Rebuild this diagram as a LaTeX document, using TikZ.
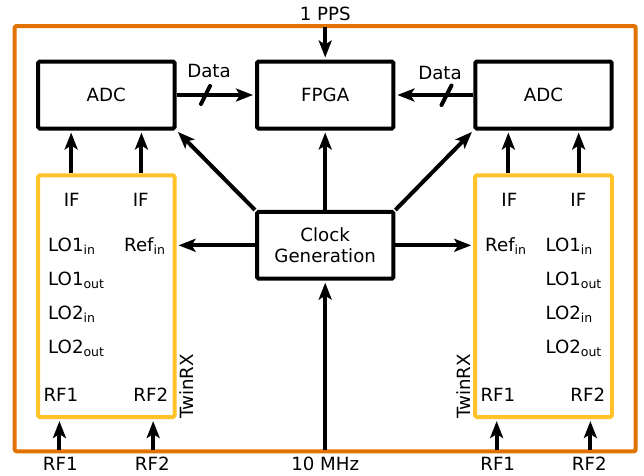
\documentclass[tikz,border=0pt]{standalone}
\usepackage{fontspec}
\setmainfont{DejaVu Sans}
\usetikzlibrary{arrows.meta,calc}
\definecolor{frameorange}{RGB}{226,114,0}
\definecolor{twinyellow}{RGB}{255,194,40}
\newcommand\dfont{\fontsize{18.2}{21.5}\selectfont}
\newcommand\subx[1]{\raisebox{-3pt}{\fontsize{12.5}{13}\selectfont #1}}
\begin{document}
\begin{tikzpicture}[x=1pt,y=-1pt,
  every node/.style={font=\dfont},
  blk/.style={draw, line width=4pt, minimum width=136.4pt, minimum height=67pt, inner sep=0pt, rounded corners=1.5pt},
  twin/.style={draw=twinyellow, line width=4pt, minimum width=136.6pt, minimum height=241.7pt, inner sep=0pt, rounded corners=1.5pt},
  arr/.style={line width=4pt, shorten >=2pt, -{Stealth[length=17pt,width=13pt,inset=4pt]}},
  lbl/.style={inner sep=0pt},
  slashmark/.style={line width=4pt, line cap=round},
]
\useasboundingbox (0,0) rectangle (644,475);
% frame
\node[draw=frameorange, line width=4pt, minimum width=621pt, minimum height=425.3pt, inner sep=0pt, rounded corners=2pt] (frame) at (325.2,238.65) {};
% blocks
\node[blk] (adcL) at (106.3,95) {ADC};
\node[blk] (fpga) at (325.2,95) {FPGA};
\node[blk] (adcR) at (543.5,95) {ADC};
\node[blk, align=center, minimum height=66.7pt] (clk) at (325.2,245.3) {Clock\\Generation};
\node[twin] (twL) at (106.3,296.2) {};
\node[twin] (twR) at (543.5,296.2) {};
% TwinRX labels
\node[lbl, rotate=90, anchor=north west, inner sep=0pt] (twLlab) at ($(twL.south east)+(3,0)$) {TwinRX};
\node[lbl, rotate=90, anchor=south west, inner sep=0pt] (twRlab) at ($(twR.south west)+(-3,0)$) {TwinRX};
% left TwinRX ports
\node[lbl, anchor=base] (ifL1) at (71.7,206) {IF};
\node[lbl, anchor=base] (ifL2) at (140.7,206) {IF};
\node[lbl, anchor=base west] (lo1inL) at (48,251) {LO1\subx{in}};
\node[lbl, anchor=base west] (refL) at (124,251) {Ref\subx{in}};
\node[lbl, anchor=base west] (lo1outL) at (48,285) {LO1\subx{out}};
\node[lbl, anchor=base west] (lo2inL) at (48,319) {LO2\subx{in}};
\node[lbl, anchor=base west] (lo2outL) at (48,353) {LO2\subx{out}};
\node[lbl, anchor=base west] (rf1L) at (43.3,401) {RF1};
\node[lbl, anchor=base east] (rf2L) at (168.3,401) {RF2};
% right TwinRX ports
\node[lbl, anchor=base] (ifR1) at (509.3,206) {IF};
\node[lbl, anchor=base] (ifR2) at (578.3,206) {IF};
\node[lbl, anchor=base west] (refR) at (485,251) {Ref\subx{in}};
\node[lbl, anchor=base west] (lo1inR) at (545.3,251) {LO1\subx{in}};
\node[lbl, anchor=base west] (lo1outR) at (545.3,285) {LO1\subx{out}};
\node[lbl, anchor=base west] (lo2inR) at (545.3,319) {LO2\subx{in}};
\node[lbl, anchor=base west] (lo2outR) at (545.3,353) {LO2\subx{out}};
\node[lbl, anchor=base west] (rf1R) at (480.3,401) {RF1};
\node[lbl, anchor=base east] (rf2R) at (605.3,401) {RF2};
% outside labels
\node[lbl, anchor=base] (pps) at (325.2,20) {1 PPS};
\node[lbl, anchor=base] (mhz) at (325.2,470) {10 MHz};
\node[lbl, anchor=base] (inRF1L) at (60.3,470) {RF1};
\node[lbl, anchor=base] (inRF2L) at (152.3,470) {RF2};
\node[lbl, anchor=base] (inRF1R) at (497.7,470) {RF1};
\node[lbl, anchor=base] (inRF2R) at (589.3,470) {RF2};
\node[lbl, anchor=base] (dataL) at (209,77.5) {Data};
\node[lbl, anchor=base] (dataR) at (440,79) {Data};
% coordinates for port columns
\coordinate (cL1) at ($(twL.south west)!1/6!(twL.south east)$);
\coordinate (cL2) at ($(twL.south west)!5/6!(twL.south east)$);
\coordinate (cR1) at ($(twR.south west)!1/6!(twR.south east)$);
\coordinate (cR2) at ($(twR.south west)!5/6!(twR.south east)$);
\coordinate (iL1) at ($(twL.north west)!0.25!(twL.north east)$);
\coordinate (iL2) at ($(twL.north west)!0.75!(twL.north east)$);
\coordinate (iR1) at ($(twR.north west)!0.25!(twR.north east)$);
\coordinate (iR2) at ($(twR.north west)!0.75!(twR.north east)$);
\coordinate (fbot) at (frame.center |- frame.south);
\coordinate (ftop) at (frame.center |- frame.north);
% IF arrows
\draw[arr] (iL1) -- (iL1 |- adcL.south);
\draw[arr] (iL2) -- (iL2 |- adcL.south);
\draw[arr] (iR1) -- (iR1 |- adcR.south);
\draw[arr] (iR2) -- (iR2 |- adcR.south);
% RF arrows
\draw[arr, shorten <=3pt] (cL1 |- fbot) -- (cL1);
\draw[arr, shorten <=3pt] (cL2 |- fbot) -- (cL2);
\draw[arr, shorten <=3pt] (cR1 |- fbot) -- (cR1);
\draw[arr, shorten <=3pt] (cR2 |- fbot) -- (cR2);
% clock connections
\draw[arr, shorten <=3pt] (clk.south |- fbot) -- (clk.south);
\draw[arr, shorten <=3pt] (fpga.north |- ftop) -- (fpga.north);
\draw[arr] (clk.north) -- (fpga.south);
\draw[arr] (clk.north west) -- (adcL.south east);
\draw[arr] (clk.north east) -- (adcR.south west);
\draw[arr] (clk.west) -- (clk.west -| twL.east);
\draw[arr] (clk.east) -- (clk.east -| twR.west);
% data
\draw[arr] (adcL.east) -- (fpga.west);
\draw[arr] (adcR.west) -- (fpga.east);
\draw[slashmark] (201,104) -- (210,86);
\draw[slashmark] (441.5,105) -- (451.5,85.5);
\end{tikzpicture}
\end{document}
